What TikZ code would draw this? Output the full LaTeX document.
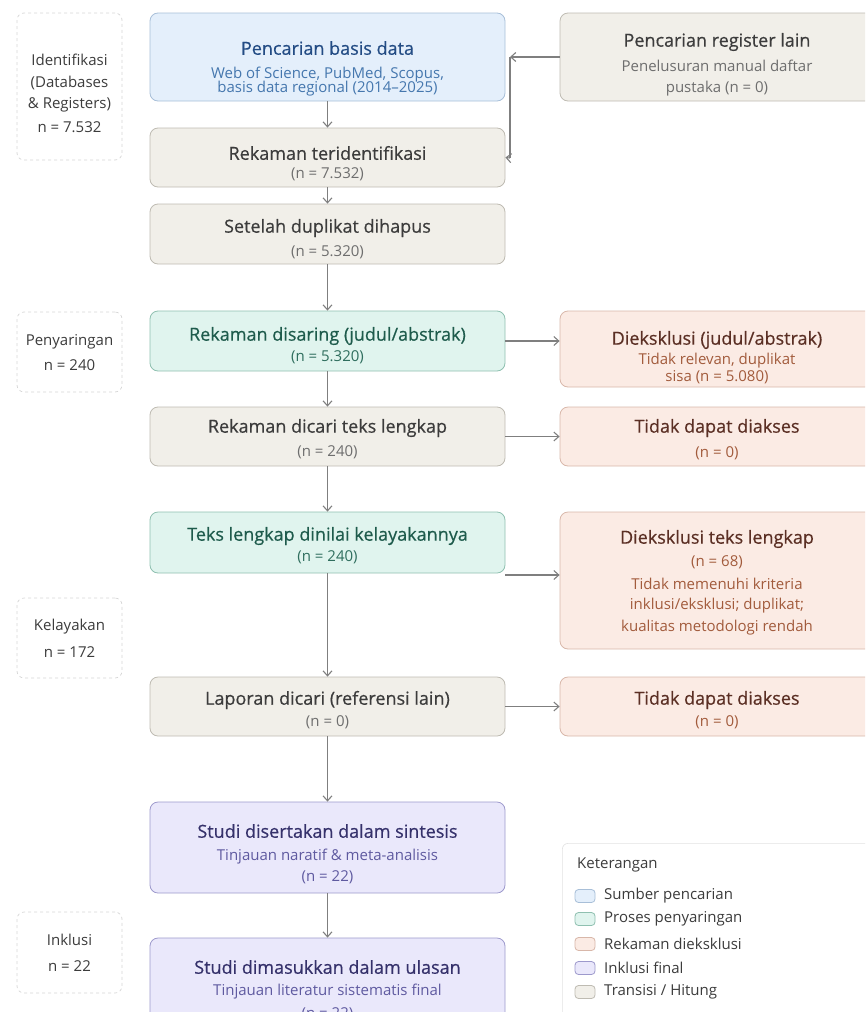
\documentclass[tikz,border=0pt]{standalone}
\usepackage{fontspec}
\setmainfont{Open Sans}
\newfontfamily\titlefont{Open Sans}[FakeBold=0.5]
\usetikzlibrary{arrows.meta}
\definecolor{bfill}{HTML}{E4EFFB}\definecolor{bdraw}{HTML}{A8BFD8}
\definecolor{btit}{HTML}{234C84}\definecolor{bsub}{HTML}{4577AE}
\definecolor{gfill}{HTML}{F1EFE9}\definecolor{gdraw}{HTML}{BEBBB2}
\definecolor{gtit}{HTML}{3C3C3C}\definecolor{gsub}{HTML}{6E6E6E}
\definecolor{tfill}{HTML}{E0F4EE}\definecolor{tdraw}{HTML}{8FC0B0}
\definecolor{ttit}{HTML}{1E5B4C}\definecolor{tsub}{HTML}{2F6E5E}
\definecolor{rfill}{HTML}{FBEBE4}\definecolor{rdraw}{HTML}{D8B7A9}
\definecolor{rtit}{HTML}{5B2F24}\definecolor{rsub}{HTML}{A25B3C}
\definecolor{pfill}{HTML}{EAE8FB}\definecolor{pdraw}{HTML}{9D99CC}
\definecolor{ptit}{HTML}{35316B}\definecolor{psub}{HTML}{5F5AA0}
\definecolor{arrc}{HTML}{7F7F7F}\definecolor{phdraw}{HTML}{D6D6D6}
\begin{document}
\begin{tikzpicture}[x=1pt,y=-1pt,
  boxbase/.style={rounded corners=8pt, line width=0.8pt, inner sep=0pt},
  bluebox/.style={boxbase, draw=bdraw, fill=bfill},
  graybox/.style={boxbase, draw=gdraw, fill=gfill},
  tealbox/.style={boxbase, draw=tdraw, fill=tfill},
  redbox/.style={boxbase, draw=rdraw, fill=rfill},
  purpbox/.style={boxbase, draw=pdraw, fill=pfill},
  mainw/.style={minimum width=355pt},
  sidew/.style={minimum width=315pt},
  ttl/.style={inner sep=0pt, font=\titlefont\fontsize{18}{20}\selectfont},
  sbl/.style={inner sep=0pt, font=\fontsize{15}{17}\selectfont},
  phase/.style={draw=phdraw, dashed, rounded corners=7pt, line width=0.7pt, fill=white,
     minimum width=105pt},
  ph/.style={inner sep=0pt, text=gtit, font=\fontsize{15}{17}\selectfont},
  arr/.style={draw=arrc, line width=1.1pt, -{Straight Barb[length=5pt,width=9pt]}},
  ln/.style={draw=arrc, line width=1.1pt},
  swatch/.style={rounded corners=3.5pt, line width=0.8pt, minimum width=20pt, minimum height=13pt, inner sep=0pt},
  lg/.style={anchor=west, inner sep=0pt, text=gtit, font=\fontsize{15}{17}\selectfont}
]
\useasboundingbox (0,0) rectangle (865,1012);
\clip (0,0) rectangle (865,1012);

% ---------- phase boxes
\node[phase, minimum height=147pt] (ph1) at (69.5,86.5) {};
\node[ph] (ph1a) at (69.5,60) {Identifikasi};
\node[ph] (ph1b) at (69.5,83) {(Databases};
\node[ph] (ph1c) at (69.5,105) {\& Registers)};
\node[ph] (ph1d) at (69.5,127) {n = 7.532};
\node[phase, minimum height=80pt] (ph2) at (69.5,352) {};
\node[ph] (ph2a) at (69.5,342) {Penyaringan};
\node[ph] (ph2b) at (69.5,365) {n = 240};
\node[phase, minimum height=80pt] (ph3) at (69.5,638) {};
\node[ph] (ph3a) at (69.5,627) {Kelayakan};
\node[ph] (ph3b) at (69.5,652) {n = 172};
\node[phase, minimum height=81pt] (ph4) at (69.5,952.5) {};
\node[ph] (ph4a) at (69.5,940) {Inklusi};
\node[ph] (ph4b) at (69.5,966) {n = 22};

% ---------- main column boxes
\node[bluebox, mainw, minimum height=88pt] (bd) at (327.5,57) {};
\node[graybox, mainw, minimum height=59pt] (ri) at (327.5,157.5) {};
\node[graybox, mainw, minimum height=60pt] (sd) at (327.5,234) {};
\node[tealbox, mainw, minimum height=60pt] (rd) at (327.5,341) {};
\node[graybox, mainw, minimum height=59pt] (rc) at (327.5,436.5) {};
\node[tealbox, mainw, minimum height=61pt] (tl) at (327.5,542.5) {};
\node[graybox, mainw, minimum height=59pt] (lp) at (327.5,706.5) {};
\node[purpbox, mainw, minimum height=91pt] (sds) at (327.5,847.5) {};
\node[purpbox, mainw, minimum height=92pt] (sdm) at (327.5,984) {};

\node[ttl, text=btit] (bd1) at (327.5,48) {Pencarian basis data};
\node[sbl, text=bsub] (bd2) at (327.5,75) {Web of Science, PubMed, Scopus,};
\node[sbl, text=bsub] (bd3) at (327.5,89) {basis data regional (2014--2025)};
\node[ttl, text=gtit] (ri1) at (327.5,153) {Rekaman teridentifikasi};
\node[sbl, text=gsub] (ri2) at (327.5,174) {(n = 7.532)};
\node[ttl, text=gtit] (sd1) at (327.5,228) {Setelah duplikat dihapus};
\node[sbl, text=gsub] (sd2) at (327.5,252) {(n = 5.320)};
\node[ttl, text=ttit] (rd1) at (327.5,336) {Rekaman disaring (judul/abstrak)};
\node[sbl, text=tsub] (rd2) at (327.5,357) {(n = 5.320)};
\node[ttl, text=gtit] (rc1) at (327.5,428) {Rekaman dicari teks lengkap};
\node[sbl, text=gsub] (rc2) at (327.5,452) {(n = 240)};
\node[ttl, text=ttit] (tl1) at (327.5,536) {Teks lengkap dinilai kelayakannya};
\node[sbl, text=tsub] (tl2) at (327.5,557) {(n = 240)};
\node[ttl, text=gtit] (lp1) at (327.5,700) {Laporan dicari (referensi lain)};
\node[sbl, text=gsub] (lp2) at (327.5,722) {(n = 0)};
\node[ttl, text=ptit] (sds1) at (327.5,831) {Studi disertakan dalam sintesis};
\node[sbl, text=psub] (sds2) at (327.5,857) {Tinjauan naratif \& meta-analisis};
\node[sbl, text=psub] (sds3) at (327.5,877) {(n = 22)};
\node[ttl, text=ptit] (sdm1) at (327.5,967) {Studi dimasukkan dalam ulasan};
\node[sbl, text=psub] (sdm2) at (327.5,992) {Tinjauan literatur sistematis final};
\node[sbl, text=psub] (sdm3) at (327.5,1014) {(n = 22)};

% ---------- right column boxes
\node[graybox, sidew, minimum height=88pt] (reg) at (717.5,57) {};
\node[redbox, sidew, minimum height=76pt] (ex1) at (717.5,349) {};
\node[redbox, sidew, minimum height=59pt] (na1) at (717.5,436.5) {};
\node[redbox, sidew, minimum height=137pt] (ex2) at (717.5,580.5) {};
\node[redbox, sidew, minimum height=59pt] (na2) at (717.5,706.5) {};

\node[ttl, text=gtit] (reg1) at (717,42) {Pencarian register lain};
\node[sbl, text=gsub] (reg2) at (717,66) {Penelusuran manual daftar};
\node[sbl, text=gsub] (reg3) at (717,89) {pustaka (n = 0)};
\node[ttl, text=rtit] (ex11) at (717,340) {Dieksklusi (judul/abstrak)};
\node[sbl, text=rsub] (ex12) at (717,361) {Tidak relevan, duplikat};
\node[sbl, text=rsub] (ex13) at (717,377) {sisa (n = 5.080)};
\node[ttl, text=rtit] (na11) at (717,428) {Tidak dapat diakses};
\node[sbl, text=rsub] (na12) at (717,453) {(n = 0)};
\node[ttl, text=rtit] (ex21) at (717,539) {Dieksklusi teks lengkap};
\node[sbl, text=rsub] (ex22) at (717,562) {(n = 68)};
\node[sbl, text=rsub] (ex23) at (717,584) {Tidak memenuhi kriteria};
\node[sbl, text=rsub] (ex24) at (717,606) {inklusi/eksklusi; duplikat;};
\node[sbl, text=rsub] (ex25) at (717,628) {kualitas metodologi rendah};
\node[ttl, text=rtit] (na21) at (717,700) {Tidak dapat diakses};
\node[sbl, text=rsub] (na22) at (717,722) {(n = 0)};

% ---------- connectors
\draw[arr] (bd) -- (ri);
\draw[arr] (ri) -- (sd);
\draw[arr] (sd) -- (rd);
\draw[arr] (rd) -- (rc);
\draw[arr] (rc) -- (tl);
\draw[arr] (tl) -- (lp);
\draw[arr] (lp) -- (sds);
\draw[arr] (sds) -- (sdm);
\coordinate (j1) at (510,57);
\coordinate (j2) at (510,158);
\draw[arr] (reg.west) -- (j1);
\draw[ln] (j1) -- (j2);
\draw[arr] (j2) -- (ri.east);
\draw[arr] (rd.east) -- (rd.east -| ex1.west);
\draw[arr] (rc.east) -- (na1.west);
\draw[arr] (tl.east |- 0,575) -- (ex2.west |- 0,575);
\draw[arr] (lp.east) -- (na2.west);

% ---------- legend
\node[draw=phdraw!70, fill=white, rounded corners=6pt, line width=0.6pt, minimum width=320pt, minimum height=190pt, anchor=north west] (leg) at (562,843) {};
\node[lg] (lt) at (577,865) {Keterangan};
\node[swatch, draw=bdraw, fill=bfill] (s1) at (585,896) {};
\node[swatch, draw=tdraw, fill=tfill] (s2) at (585,919) {};
\node[swatch, draw=rdraw, fill=rfill] (s3) at (585,944) {};
\node[swatch, draw=pdraw, fill=pfill] (s4) at (585,968) {};
\node[swatch, draw=gdraw, fill=gfill] (s5) at (585,992) {};
\node[lg] (l1) at (604,896) {Sumber pencarian};
\node[lg] (l2) at (604,919) {Proses penyaringan};
\node[lg] (l3) at (604,944) {Rekaman dieksklusi};
\node[lg] (l4) at (604,968) {Inklusi final};
\node[lg] (l5) at (604,992) {Transisi / Hitung};
\end{tikzpicture}
\end{document}
